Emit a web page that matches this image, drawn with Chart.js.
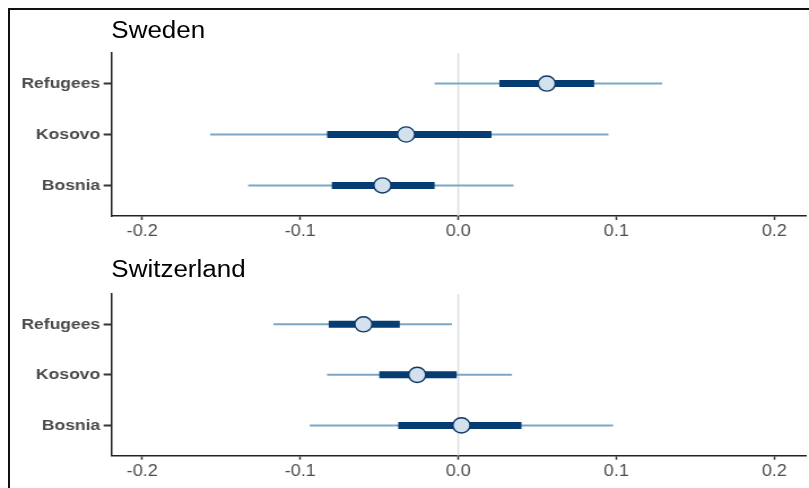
<!DOCTYPE html>
<html><head><meta charset="utf-8">
<script src="https://cdn.jsdelivr.net/npm/chart.js@4.4.1/dist/chart.umd.min.js"></script>
<style>
html,body{margin:0;padding:0;background:#fff;}
#wrap{position:relative;width:809px;height:488px;overflow:hidden;background:#fff;}
#frame{position:absolute;left:8px;top:8px;width:840px;height:520px;border-top:2px solid #111;border-left:2px solid #111;}
#stage{position:absolute;left:0;top:0;width:716px;height:488px;transform:scaleX(1.1299);transform-origin:0 0;}
#stage canvas{position:absolute;left:0;}
.title{position:absolute;left:98.5px;font-family:"Liberation Sans",Arial,sans-serif;font-size:23px;line-height:1;color:#000;white-space:nowrap;}
</style></head><body>
<div id="wrap">
<div id="frame"></div>
<div id="stage">
<canvas id="c1" width="716" height="244" style="top:0;width:716px;height:244px"></canvas>
<canvas id="c2" width="716" height="244" style="top:244px;width:716px;height:244px"></canvas>
<div class="title" style="top:18.5px">Sweden</div>
<div class="title" style="top:258.3px">Switzerland</div>
</div>
</div>
<script>
const categories = ['Refugees', 'Kosovo', 'Bosnia'];
const xTicks = [-0.2, -0.1, 0, 0.1, 0.2];
const xTickLabels = ['-0.2', '-0.1', '0.0', '0.1', '0.2'];
const refLine = [0];

// Sweden
const swedenEst     = [0.056, -0.033, -0.048];
const swedenInnerLo = [0.026, -0.083, -0.080];
const swedenInnerHi = [0.086,  0.021, -0.015];
const swedenOuterLo = [-0.015, -0.157, -0.133];
const swedenOuterHi = [0.129,  0.095,  0.035];

// Switzerland
const swissEst     = [-0.060, -0.026, 0.002];
const swissInnerLo = [-0.082, -0.050, -0.038];
const swissInnerHi = [-0.037, -0.001,  0.040];
const swissOuterLo = [-0.117, -0.083, -0.094];
const swissOuterHi = [-0.004,  0.034,  0.098];

const X_MIN = -0.2194, X_MAX = 0.2200;
const Y_MIN = 0.4, Y_MAX = 3.6;

Chart.defaults.font.family = '"Liberation Sans", Arial, Helvetica, sans-serif';

function makePanel(id, est, inLo, inHi, outLo, outHi, padTop, xAxisH) {
  const datasets = [];
  datasets.push({
    data: est.map((v, i) => ({x: v, y: i + 1})),
    pointRadius: 7.6, pointHoverRadius: 7.6,
    pointBackgroundColor: '#d2e1ed', pointBorderColor: '#0d3766', pointBorderWidth: 1.4,
    showLine: false, order: 0
  });
  categories.forEach((c, i) => {
    datasets.push({
      data: [{x: inLo[i], y: i + 1}, {x: inHi[i], y: i + 1}],
      showLine: true, borderColor: '#053d72', borderWidth: 7, pointRadius: 0, pointHoverRadius: 0,
      borderCapStyle: 'butt', order: 1
    });
    datasets.push({
      data: [{x: outLo[i], y: i + 1}, {x: outHi[i], y: i + 1}],
      showLine: true, borderColor: '#7ba7c4', borderWidth: 2, pointRadius: 0, pointHoverRadius: 0,
      borderCapStyle: 'butt', order: 2
    });
  });
  refLine.forEach(v => {
    datasets.push({
      data: [{x: v, y: Y_MIN}, {x: v, y: Y_MAX}],
      showLine: true, borderColor: '#dedede', borderWidth: 1.5, pointRadius: 0, pointHoverRadius: 0,
      order: 3
    });
  });

  new Chart(document.getElementById(id), {
    type: 'scatter',
    data: {datasets},
    options: {
      responsive: false, animation: false, events: [],
      layout: {autoPadding: false, padding: {top: padTop, right: 2.7, left: 0, bottom: 0}},
      plugins: {legend: {display: false}, tooltip: {enabled: false}, title: {display: false}},
      scales: {
        x: {
          type: 'linear', min: X_MIN, max: X_MAX,
          afterBuildTicks: s => { s.ticks = xTicks.map(v => ({value: v})); },
          afterFit: s => { s.height = xAxisH; s.paddingLeft = 0; s.paddingRight = 0; },
          ticks: {
            callback: (v, i) => xTickLabels[i],
            font: {size: 16}, color: '#4d4d4d', padding: 2, maxRotation: 0, autoSkip: false
          },
          grid: {drawOnChartArea: false, drawTicks: true, tickLength: 4, tickColor: '#333', tickWidth: 1.5},
          border: {display: true, color: '#222', width: 1.5}
        },
        y: {
          type: 'linear', reverse: true, min: Y_MIN, max: Y_MAX,
          afterBuildTicks: s => { s.ticks = categories.map((c, i) => ({value: i + 1})); },
          afterFit: s => { s.width = 98.7; s.paddingTop = 0; s.paddingBottom = 0; },
          ticks: {
            callback: (v, i) => categories[i],
            font: {size: 15.5, weight: 'bold'}, color: '#4a4a4a', padding: 3, autoSkip: false
          },
          grid: {drawOnChartArea: false, drawTicks: true, tickLength: 7, tickColor: '#333', tickWidth: 2},
          border: {display: true, color: '#222', width: 1.5}
        }
      }
    }
  });
}

makePanel('c1', swedenEst, swedenInnerLo, swedenInnerHi, swedenOuterLo, swedenOuterHi, 53, 28);
makePanel('c2', swissEst, swissInnerLo, swissInnerHi, swissOuterLo, swissOuterHi, 50, 32.3);
</script>
</body></html>
